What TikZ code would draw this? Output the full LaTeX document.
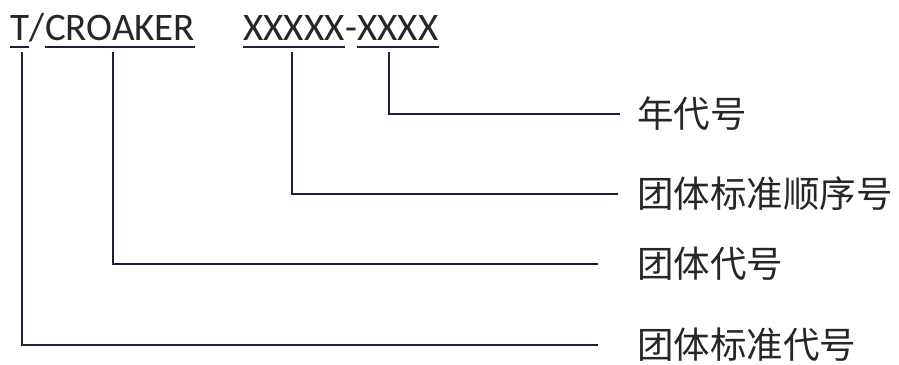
\documentclass[tikz,border=0pt]{standalone}
\usepackage{fontspec}
\setmainfont{Carlito}
\newfontfamily\cjk{Noto Sans CJK SC}
\usetikzlibrary{positioning, calc}
\definecolor{ink}{RGB}{30,30,55}
\tikzset{
  code/.style={inner sep=0pt, font=\fontsize{39}{40}\selectfont, text=black!85},
  lbl/.style={anchor=west, inner sep=0pt, font=\cjk\fontsize{36.5}{38}\selectfont, text=black!85},
  uline/.style={line width=2pt, draw=ink},
  lead/.style={line width=2pt, draw=ink},
}

\begin{document}
\begin{tikzpicture}[x=1pt, y=-1pt]
  \useasboundingbox (0,0) rectangle (899,364);

  % code parts
  \node[code, anchor=base west] (t) at (10,40) {T};
  \node[code, base right=0pt of t] (sl) {/};
  \node[code, base right=0pt of sl] (cro) {CROAKER};
  \node[code, base right=48pt of cro] (seq) {XXXXX};
  \node[code, base right=0pt of seq] (dash) {-};
  \node[code, base right=0pt of dash] (yr) {XXXX};

  % labels
  \node[lbl] (nian) at (637,114) {年代号};
  \node[lbl] (shunxu) at (637,194) {团体标准顺序号};
  \node[lbl] (daihao) at (637,264) {团体代号};
  \node[lbl] (biaozhun) at (637,345) {团体标准代号};

  \foreach \n in {t, cro, seq, yr}
    \draw[uline] ($(\n.base west)+(0,7)$) -- ($(\n.base east)+(0,7)$);

  \draw[lead] ($(yr.base)+(-9,12)$) |- ([xshift=-17pt]nian.west);
  \draw[lead] ($(seq.base)+(-2,12)$) |- ([xshift=-19pt]shunxu.west);
  \draw[lead] ($(cro.base)+(-7,12)$) |- ([xshift=-39pt]daihao.west);
  \draw[lead] ($(t.base)+(2,12)$) |- ([xshift=-39pt]biaozhun.west);

\end{tikzpicture}
\end{document}
